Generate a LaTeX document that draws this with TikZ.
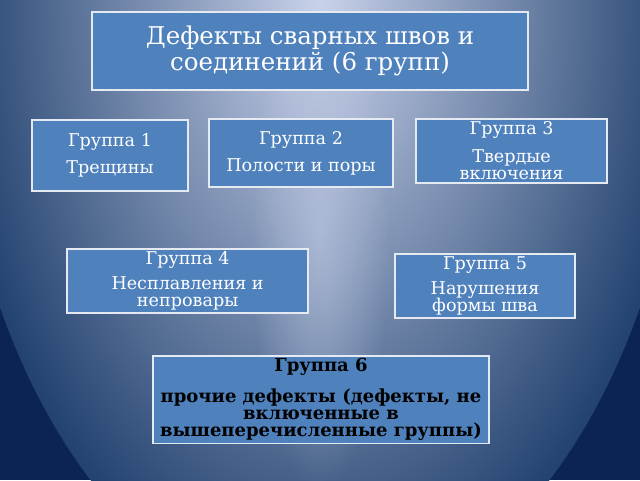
\documentclass[tikz,border=0pt]{standalone}
\usepackage{fontspec}
\setmainfont{DejaVu Serif}
\usepackage{tikz}
\usetikzlibrary{fadings}
\definecolor{bgdark}{HTML}{0C2452}
\definecolor{bgmid}{HTML}{22426F}
\definecolor{bglight}{HTML}{C9D2EA}
\definecolor{boxblue}{HTML}{4F81BD}
\definecolor{boxline}{HTML}{E4E9F2}
\tikzfading[name=glow, inner color=transparent!0, outer color=transparent!100]

\begin{document}
\begin{tikzpicture}
    \tikzstyle{group}=[draw=boxline, line width=1.4pt, fill=boxblue, text=white, align=center, inner sep=2pt, font=\fontsize{12.5}{12.5}\selectfont]

    % Background
    \useasboundingbox (0,0) rectangle (16,-12);
    \fill[bgdark] (0,0) rectangle (16,-12);
    \begin{scope}
        \clip (0,0) rectangle (16,-12);
        \shade[inner color=bglight, outer color=bgmid] (8,0) ellipse (9.25 and 15.3);
        \fill[bglight, path fading=glow, fill opacity=0.55] (8,-5.75) ellipse (1.75 and 6.5);
    \end{scope}

    % Title
    \node at (7.75,-1.275) [group, minimum width=10.9cm, minimum height=1.95cm, font=\fontsize{17.4}{18.5}\selectfont] (title) {Дефекты сварных швов и\\соединений (6 групп)};

    % Row 1
    \node at (2.75,-3.89) [group, minimum width=3.9cm, minimum height=1.775cm] (group_1) {Группа 1\\[6.5pt]Трещины};
    \node at (7.525,-3.825) [group, minimum width=4.6cm, minimum height=1.7cm] (group_2) {Группа 2\\[6.5pt]Полости и поры};
    \node at (12.79,-3.775) [group, minimum width=4.775cm, minimum height=1.6cm] (group_3) {Группа 3\\[7pt]Твердые\\включения};

    % Row 2
    \node at (4.69,-7.025) [group, minimum width=6.025cm, minimum height=1.6cm] (group_4) {Группа 4\\[5pt]Несплавления и\\непровары};
    \node at (12.125,-7.15) [group, minimum width=4.5cm, minimum height=1.5cm] (group_5) {Группа 5\\[5pt]Нарушения\\формы шва};

    % Row 3
    \node at (8.025,-9.99) [group, minimum width=8.4cm, minimum height=2.175cm, text=black, font=\fontsize{12.8}{12}\selectfont\bfseries] (group_6) {Группа 6\\[8.5pt]прочие дефекты (дефекты, не\\включенные в\\вышеперечисленные группы)};
\end{tikzpicture}
\end{document}
